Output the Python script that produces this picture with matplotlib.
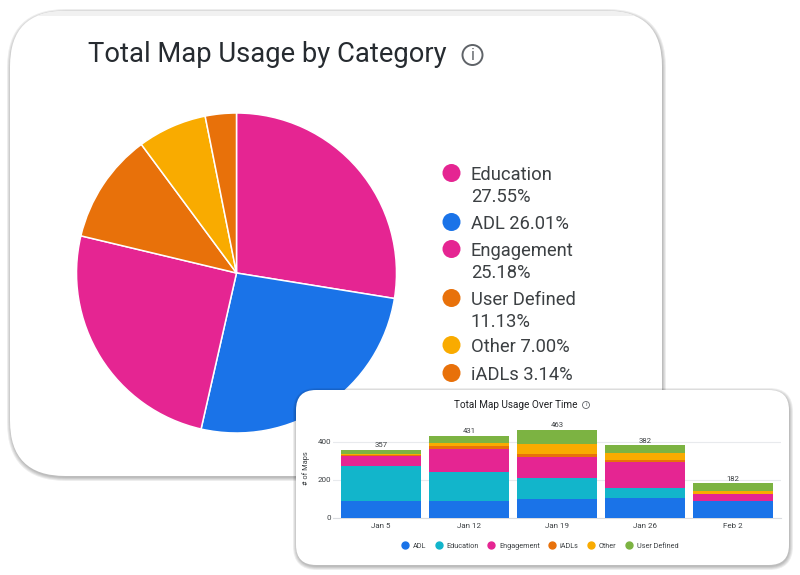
import matplotlib
matplotlib.use('Agg')
import matplotlib.pyplot as plt
from matplotlib.lines import Line2D
from matplotlib.patches import Circle, FancyBboxPatch, Rectangle

plt.rcParams['font.family'] = ['Roboto', 'DejaVu Sans']

# Pie data
pie_labels = ['Education', 'ADL', 'Engagement', 'User Defined', 'Other', 'iADLs']
pie_values = [27.55, 26.01, 25.18, 11.13, 7.00, 3.14]
pie_legend = ['Education\n27.55%', 'ADL 26.01%', 'Engagement\n25.18%',
              'User Defined\n11.13%', 'Other 7.00%', 'iADLs 3.14%']

# Stacked bar data
weeks = ['Jan 5', 'Jan 12', 'Jan 19', 'Jan 26', 'Feb 2']
adl = [91, 91, 98, 107, 88]
education = [181, 151, 112, 51, 3]
engagement = [53, 119, 109, 135, 35]
iadls = [7, 20, 20, 12, 0]
other = [5, 14, 52, 35, 18]
user_defined = [20, 36, 72, 42, 38]
totals = [357, 431, 463, 382, 182]

BLUE = '#1A73E8'
TEAL = '#12B5CB'
PINK = '#E52592'
ORANGE = '#E8710A'
AMBER = '#F9AB00'
GREEN = '#7CB342'
pie_colors = [PINK, BLUE, PINK, ORANGE, AMBER, ORANGE]
W, H = 800, 575


def pixel_axes(fig, left, top, right, bottom, zorder):
    # axes placed with pixel positions measured from the top left corner
    return fig.add_axes([left / W, 1 - bottom / H, (right - left) / W, (bottom - top) / H], zorder=zorder)


def draw_card(ax, x0, y0, x1, y1, rad, spread):
    # soft shadow from stacked see-through shapes, then the white card
    for s in range(spread, 0, -1):
        ax.add_patch(FancyBboxPatch((x0 - s + 1, y0 - s + 2), x1 - x0 + 2 * s - 1, y1 - y0 + 2 * s - 1,
                                    boxstyle=f'round,pad=0,rounding_size={rad + s}',
                                    fc='black', ec='none', alpha=0.07))
    card = FancyBboxPatch((x0, y0), x1 - x0, y1 - y0, boxstyle=f'round,pad=0,rounding_size={rad}',
                          fc='white', ec='none')
    ax.add_patch(card)
    return card


def info_icon(ax, x, y, r, lw, size):
    ax.add_patch(Circle((x, y), r, fc='none', ec='#5F6368', lw=lw))
    ax.text(x, y, 'i', ha='center', va='center', fontsize=size, color='#5F6368')


fig = plt.figure(figsize=(8, 5.75), dpi=100, facecolor='white')

# Big card, with the pale strip along its top edge
back = fig.add_axes([0, 0, 1, 1], zorder=0)
back.set_xlim(0, W)
back.set_ylim(H, 0)
back.axis('off')
big_card = draw_card(back, 10, 11, 662, 476, 55, 4)
strip = Rectangle((10, 11), 652, 5, fc='#F1F1F1', ec='none')
back.add_patch(strip)
strip.set_clip_path(big_card)
back.text(88, 55, 'Total Map Usage by Category', fontsize=19.7, color='#262B30', va='center')
info_icon(back, 472.5, 55, 10, 1.4, 11.5)

legend_ys = [173, 222, 249, 298, 345, 373]
legend_colors = [PINK, BLUE, PINK, ORANGE, AMBER, ORANGE]
for text, y, colour in zip(pie_legend, legend_ys, legend_colors):
    back.add_patch(Circle((451.5, y), 9, fc=colour, ec='none'))
    back.text(471, y - 7, text, fontsize=13.2, color='#3C4043', va='top', linespacing=1.3)

# Pie
pie_ax = pixel_axes(fig, 76.5, 113, 396.5, 433, 1)
pie_ax.pie(pie_values, colors=pie_colors, startangle=90, counterclock=False, radius=1,
           wedgeprops={'edgecolor': 'white', 'linewidth': 1.1})
pie_ax.set_xlim(-1, 1)
pie_ax.set_ylim(-1, 1)

# Small card on top of the big one
front = fig.add_axes([0, 0, 1, 1], zorder=2)
front.set_xlim(0, W)
front.set_ylim(H, 0)
front.axis('off')
front.patch.set_alpha(0)
draw_card(front, 296, 390, 789, 565, 20, 4)
front.text(454, 404.5, 'Total Map Usage Over Time', fontsize=7.2, color='#202124', va='center')
info_icon(front, 586, 405, 3.5, 0.6, 4.5)

# Stacked bars
bar_ax = pixel_axes(fig, 333, 418, 781, 518, 3)
bar_ax.patch.set_alpha(0)
series = [('ADL', adl, BLUE), ('Education', education, TEAL), ('Engagement', engagement, PINK),
          ('iADLs', iadls, ORANGE), ('Other', other, AMBER), ('User Defined', user_defined, GREEN)]
xs = range(len(weeks))
bottom = [0] * len(weeks)
for name, values, colour in series:
    bar_ax.bar(xs, values, 0.9, bottom=bottom, color=colour, zorder=3)
    bottom = [b + v for b, v in zip(bottom, values)]

for x, total, top in zip(xs, totals, bottom):
    bar_ax.annotate(str(total), (x, top), xytext=(0, 1.2), textcoords='offset points', ha='center',
                    va='bottom', fontsize=5.6, color='#3C4043', annotation_clip=False)

bar_ax.set_xlim(-0.545, 4.545)
bar_ax.set_ylim(0, 526)
bar_ax.set_xticks(list(xs))
bar_ax.set_xticklabels(weeks)
bar_ax.set_yticks([0, 200, 400])
bar_ax.tick_params(length=0, labelsize=5.8, colors='#3C4043', pad=1.5)
bar_ax.tick_params(axis='x', pad=3.5)
bar_ax.set_ylabel('# of Maps', fontsize=5.3, color='#3C4043', labelpad=5)
bar_ax.grid(axis='y', color='#E8EAED', lw=0.8, zorder=0)
bar_ax.set_axisbelow(True)
for side in ['top', 'right', 'left']:
    bar_ax.spines[side].set_visible(False)
bar_ax.spines['bottom'].set_color('#DADCE0')
bar_ax.spines['bottom'].set_linewidth(0.8)

handles = [Line2D([], [], marker='o', ls='none', ms=5, color=c, label=n) for n, v, c in series]
bar_ax.legend(handles=handles, ncol=6, frameon=False, fontsize=5.2, labelcolor='#3C4043', loc='center',
              bbox_to_anchor=(0.462, -0.285), handlelength=1, handletextpad=0.55, columnspacing=1.25)

fig.savefig('out.png', dpi=100)
